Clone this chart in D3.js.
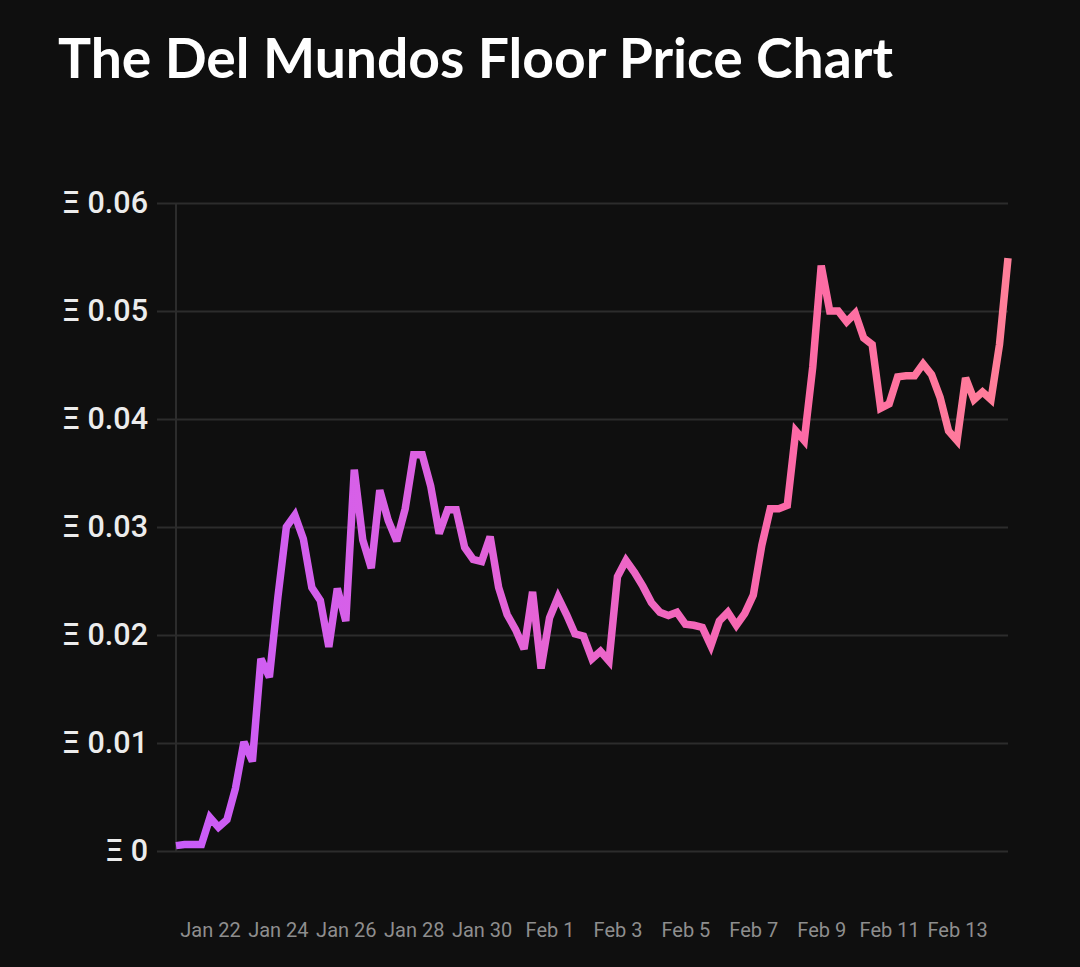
<!DOCTYPE html>
<html>
<head>
<meta charset="utf-8">
<script src="https://cdn.jsdelivr.net/npm/d3@7"></script>
<style>
  html, body { margin: 0; padding: 0; background: #0f0f0f; }
  svg { display: block; }
</style>
</head>
<body>
<svg id="chart" width="1080" height="967"></svg>
<script>
// ---- data ----
const chartTitle = "The Del Mundos Floor Price Chart";
const startTime = new Date(2022, 0, 21, 0, 0);   // first sample
const stepHours = 6;                              // one sample every 6 hours
const prices = [
  0.0005, 0.0006, 0.0006, 0.0006, 0.0031, 0.0022, 0.0029, 0.0058, 0.0101, 0.0083,
  0.0178, 0.0161, 0.0235, 0.0300, 0.0311, 0.0289, 0.0244, 0.0232, 0.0189, 0.0243,
  0.0213, 0.0353, 0.0288, 0.0262, 0.0334, 0.0306, 0.0287, 0.0317, 0.0367, 0.0367,
  0.0338, 0.0294, 0.0316, 0.0316, 0.0281, 0.0270, 0.0268, 0.0291, 0.0244, 0.0219,
  0.0205, 0.0187, 0.0240, 0.0169, 0.0216, 0.0235, 0.0219, 0.0201, 0.0199, 0.0178,
  0.0185, 0.0176, 0.0254, 0.0269, 0.0258, 0.0245, 0.0230, 0.0221, 0.0218, 0.0221,
  0.0210, 0.0209, 0.0207, 0.0190, 0.0213, 0.0221, 0.0209, 0.0220, 0.0237, 0.0283,
  0.0317, 0.0317, 0.0320, 0.0389, 0.0380, 0.0448, 0.0542, 0.0500, 0.0500, 0.0490,
  0.0498, 0.0475, 0.0469, 0.0410, 0.0414, 0.0439, 0.0440, 0.0440, 0.0451, 0.0441,
  0.0420, 0.0389, 0.0380, 0.0438, 0.0418, 0.0425, 0.0418, 0.0469, 0.0549
];
const xTickDates = ["2022-01-22", "2022-01-24", "2022-01-26", "2022-01-28", "2022-01-30",
  "2022-02-01", "2022-02-03", "2022-02-05", "2022-02-07", "2022-02-09", "2022-02-11", "2022-02-13"];
const yTicks = [0, 0.01, 0.02, 0.03, 0.04, 0.05, 0.06];

// ---- build ----
const times = prices.map((_, i) => d3.timeHour.offset(startTime, i * stepHours));
const data = prices.map((v, i) => ({ t: times[i], v }));
const parseDay = d3.timeParse("%Y-%m-%d");
const xTicks = xTickDates.map(parseDay);

const svg = d3.select("#chart");
svg.append("rect").attr("width", 1080).attr("height", 967).attr("fill", "#0f0f0f");

const plotLeft = 176, plotRight = 1008, plotTop = 203, plotBottom = 851, gridLeft = 157;

const x = d3.scaleTime().domain(d3.extent(times)).range([plotLeft, plotRight]);
const y = d3.scaleLinear().domain([0, 0.06]).range([plotBottom, plotTop]);

// title
const title = svg.append("text")
  .attr("x", 58).attr("y", 78)
  .attr("fill", "#ffffff")
  .style("font-family", "Lato, 'Open Sans', sans-serif")
  .style("font-weight", 700)
  .style("font-size", "57px")
  .text(chartTitle);
const tw = title.node().getComputedTextLength();
title.style("font-size", (57 * 835 / tw).toFixed(2) + "px");

// y axis with gridlines
const yAxis = d3.axisLeft(y)
  .tickValues(yTicks)
  .tickSize(-(plotRight - gridLeft))
  .tickPadding(9)
  .tickFormat(d => "Ξ " + (d === 0 ? "0" : d3.format(".2f")(d)));
const gy = svg.append("g").attr("transform", `translate(${gridLeft},0)`).call(yAxis);
gy.select(".domain").remove();
gy.selectAll(".tick line").attr("stroke", "#2c2c2c").attr("stroke-width", 2);
gy.selectAll(".tick text")
  .attr("fill", "#ececec")
  .style("font-family", "Roboto, sans-serif")
  .style("font-weight", 500)
  .style("font-size", "30.5px");

// vertical axis line
svg.append("line")
  .attr("x1", plotLeft).attr("x2", plotLeft)
  .attr("y1", y(0.06)).attr("y2", y(0))
  .attr("stroke", "#2c2c2c").attr("stroke-width", 2);

// x axis
const xAxis = d3.axisBottom(x)
  .tickValues(xTicks)
  .tickSize(0)
  .tickPadding(72)
  .tickFormat(d3.timeFormat("%b %-d"));
const gx = svg.append("g").attr("transform", `translate(0,${plotBottom})`).call(xAxis);
gx.select(".domain").remove();
gx.selectAll(".tick text")
  .attr("fill", "#8e8e8e")
  .style("font-family", "Roboto, sans-serif")
  .style("font-size", "20px");

// gradient
const defs = svg.append("defs");
const grad = defs.append("linearGradient")
  .attr("id", "lineGrad")
  .attr("gradientUnits", "userSpaceOnUse")
  .attr("x1", plotLeft).attr("x2", plotRight).attr("y1", 0).attr("y2", 0);
[[0, "#c95cfa"], [0.45, "#e664d4"], [0.75, "#fd6aa6"], [1, "#ff7f99"]].forEach(([o, c]) =>
  grad.append("stop").attr("offset", o).attr("stop-color", c));

// line
const line = d3.line().x(d => x(d.t)).y(d => y(d.v));
svg.append("path")
  .datum(data)
  .attr("d", line)
  .attr("fill", "none")
  .attr("stroke", "url(#lineGrad)")
  .attr("stroke-width", 7.5)
  .attr("stroke-linejoin", "miter")
  .attr("stroke-miterlimit", 3)
  .attr("stroke-linecap", "butt");
</script>
</body>
</html>
